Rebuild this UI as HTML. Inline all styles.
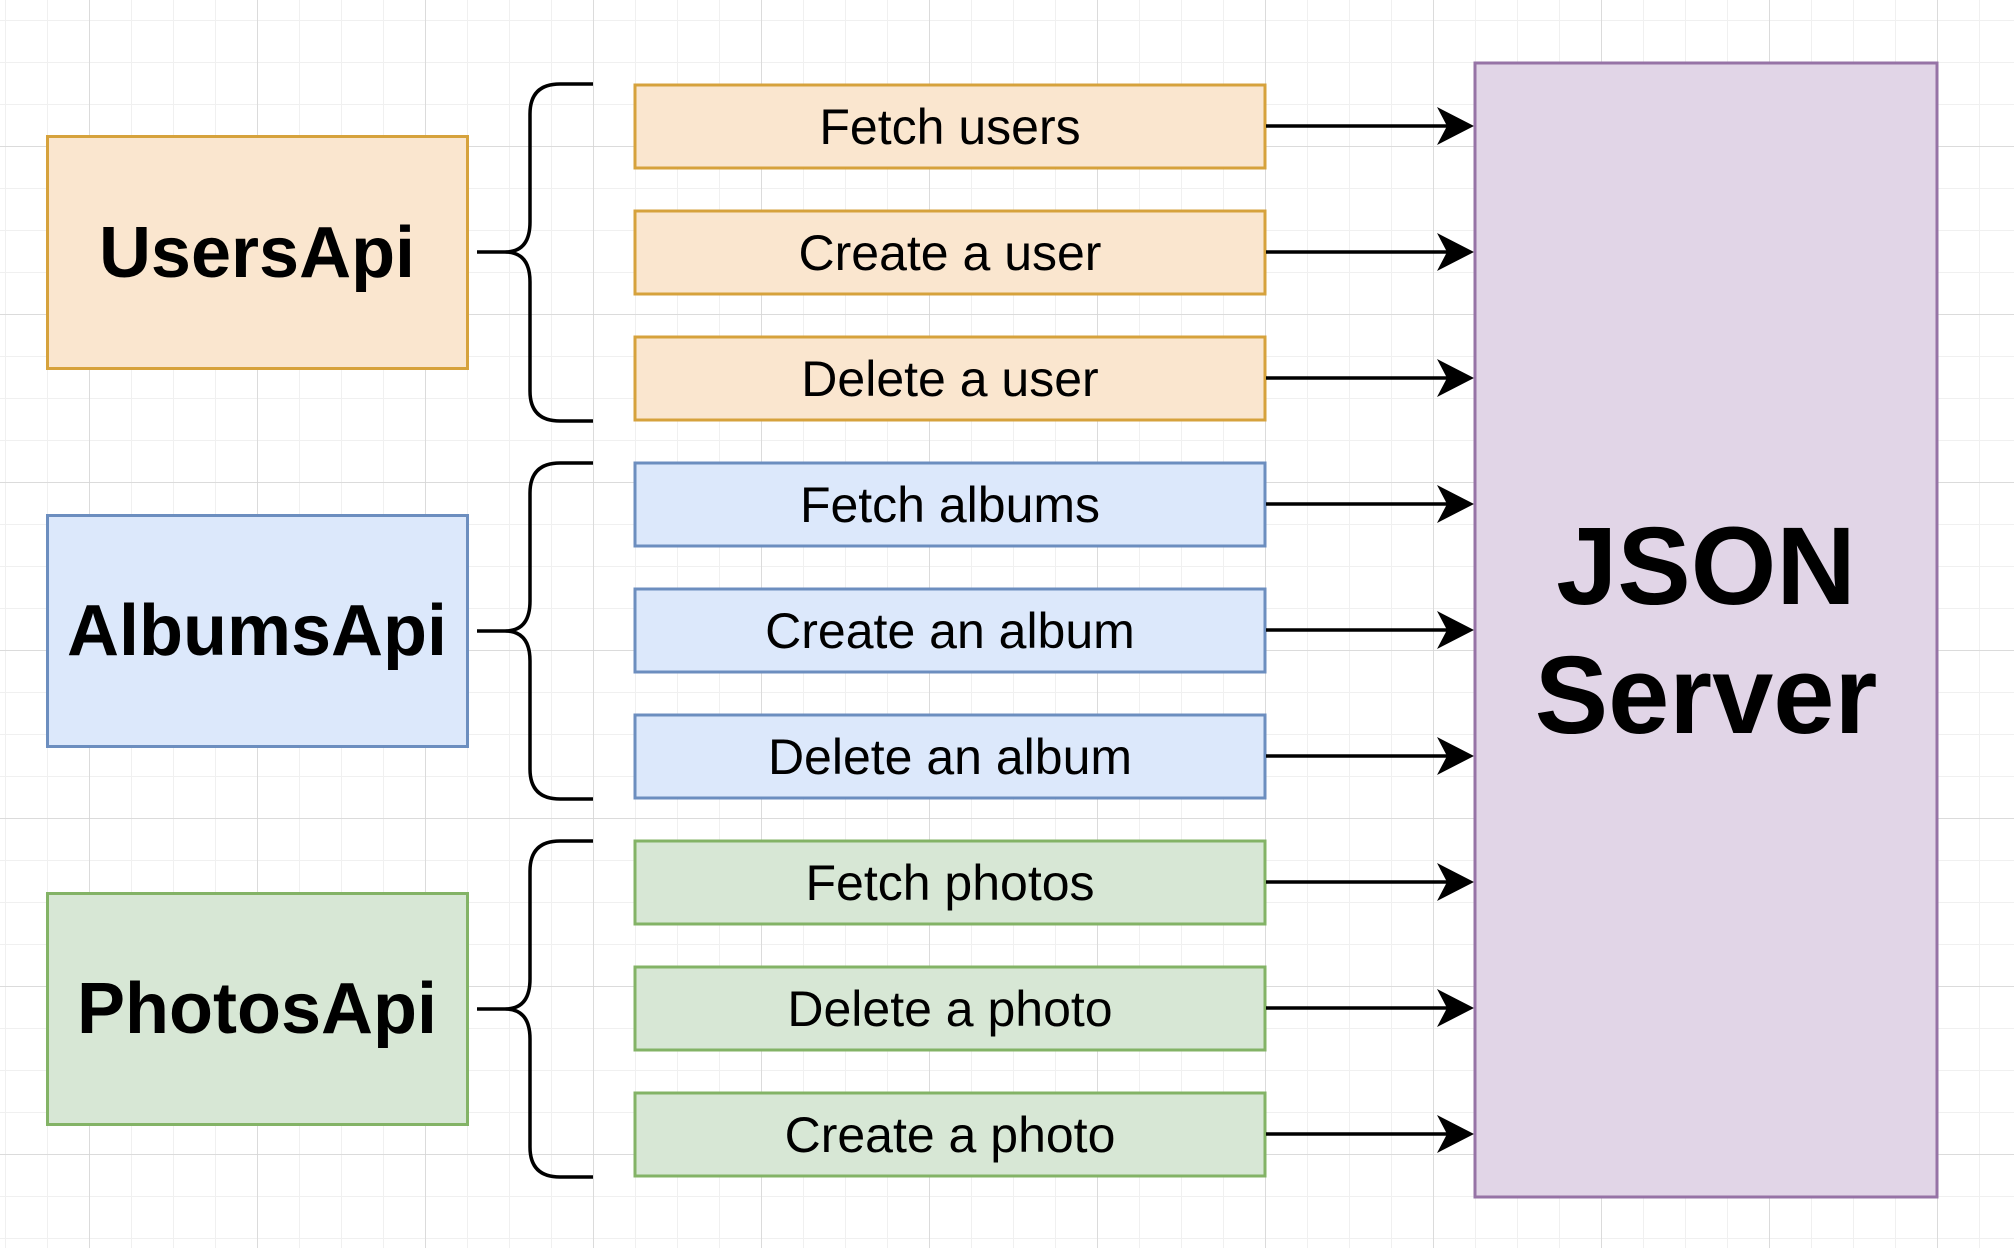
<!DOCTYPE html>
<html><head><meta charset="utf-8"><style>
html,body{margin:0;padding:0;background:#fff;}
svg{display:block;}
text{font-family:"Liberation Sans",Arial,sans-serif;fill:#000;}
</style></head><body>
<svg width="2014" height="1248" viewBox="0 0 2014 1248" xmlns="http://www.w3.org/2000/svg">
<defs>
<pattern id="minor" x="5" y="20" width="42" height="42" patternUnits="userSpaceOnUse">
<path d="M0 0 H42 M0 0 V42" stroke="#f0f0f0" stroke-width="2" fill="none"/>
</pattern>
<pattern id="major" x="89" y="146" width="168" height="168" patternUnits="userSpaceOnUse">
<path d="M0 0 H168 M0 0 V168" stroke="#d4d4d4" stroke-width="1.5" fill="none"/>
</pattern>
</defs>
<rect width="2014" height="1248" fill="#fff"/>
<rect width="2014" height="1248" fill="url(#minor)"/>
<rect width="2014" height="1248" fill="url(#major)"/>

<rect x="47.5" y="136.5" width="420" height="232" fill="#fae6cf" stroke="#d6a23c" stroke-width="3"/>
<text x="257" y="277" font-size="72" font-weight="bold" text-anchor="middle">UsersApi</text>
<rect x="47.5" y="515.5" width="420" height="231" fill="#dce8fb" stroke="#6c8ebf" stroke-width="3"/>
<text x="257" y="655" font-size="72" font-weight="bold" text-anchor="middle">AlbumsApi</text>
<rect x="47.5" y="893.5" width="420" height="231" fill="#d7e7d5" stroke="#83b366" stroke-width="3"/>
<text x="257" y="1033" font-size="72" font-weight="bold" text-anchor="middle">PhotosApi</text>

<g fill="none" stroke="#000" stroke-width="3.5">
<path d="M593 84 H560 Q530 84 530 114 V222 Q530 252 505 252 H477 M505 252 Q530 252 530 282 V391 Q530 421 560 421 H593"/>
<path d="M593 463 H560 Q530 463 530 493 V601 Q530 631 505 631 H477 M505 631 Q530 631 530 661 V769 Q530 799 560 799 H593"/>
<path d="M593 841 H560 Q530 841 530 871 V979 Q530 1009 505 1009 H477 M505 1009 Q530 1009 530 1039 V1147 Q530 1177 560 1177 H593"/>
</g>

<g stroke-width="3">
<rect x="635" y="85" width="630" height="83" fill="#fae6cf" stroke="#d6a23c"/>
<rect x="635" y="211" width="630" height="83" fill="#fae6cf" stroke="#d6a23c"/>
<rect x="635" y="337" width="630" height="83" fill="#fae6cf" stroke="#d6a23c"/>
<rect x="635" y="463" width="630" height="83" fill="#dce8fb" stroke="#6c8ebf"/>
<rect x="635" y="589" width="630" height="83" fill="#dce8fb" stroke="#6c8ebf"/>
<rect x="635" y="715" width="630" height="83" fill="#dce8fb" stroke="#6c8ebf"/>
<rect x="635" y="841" width="630" height="83" fill="#d7e7d5" stroke="#83b366"/>
<rect x="635" y="967" width="630" height="83" fill="#d7e7d5" stroke="#83b366"/>
<rect x="635" y="1093" width="630" height="83" fill="#d7e7d5" stroke="#83b366"/>
</g>
<g font-size="50" text-anchor="middle">
<text x="950" y="144">Fetch users</text>
<text x="950" y="270">Create a user</text>
<text x="950" y="396">Delete a user</text>
<text x="950" y="522">Fetch albums</text>
<text x="950" y="648">Create an album</text>
<text x="950" y="774">Delete an album</text>
<text x="950" y="900">Fetch photos</text>
<text x="950" y="1026">Delete a photo</text>
<text x="950" y="1152">Create a photo</text>
</g>

<g transform="translate(0,0)"><path d="M1266 126 H1452" stroke="#000" stroke-width="3.5"/><path d="M1474 126 L1437 107 L1447 126 L1437 145 Z"/></g>
<g transform="translate(0,126)"><path d="M1266 126 H1452" stroke="#000" stroke-width="3.5"/><path d="M1474 126 L1437 107 L1447 126 L1437 145 Z"/></g>
<g transform="translate(0,252)"><path d="M1266 126 H1452" stroke="#000" stroke-width="3.5"/><path d="M1474 126 L1437 107 L1447 126 L1437 145 Z"/></g>
<g transform="translate(0,378)"><path d="M1266 126 H1452" stroke="#000" stroke-width="3.5"/><path d="M1474 126 L1437 107 L1447 126 L1437 145 Z"/></g>
<g transform="translate(0,504)"><path d="M1266 126 H1452" stroke="#000" stroke-width="3.5"/><path d="M1474 126 L1437 107 L1447 126 L1437 145 Z"/></g>
<g transform="translate(0,630)"><path d="M1266 126 H1452" stroke="#000" stroke-width="3.5"/><path d="M1474 126 L1437 107 L1447 126 L1437 145 Z"/></g>
<g transform="translate(0,756)"><path d="M1266 126 H1452" stroke="#000" stroke-width="3.5"/><path d="M1474 126 L1437 107 L1447 126 L1437 145 Z"/></g>
<g transform="translate(0,882)"><path d="M1266 126 H1452" stroke="#000" stroke-width="3.5"/><path d="M1474 126 L1437 107 L1447 126 L1437 145 Z"/></g>
<g transform="translate(0,1008)"><path d="M1266 126 H1452" stroke="#000" stroke-width="3.5"/><path d="M1474 126 L1437 107 L1447 126 L1437 145 Z"/></g>

<rect x="1475" y="63" width="462" height="1134" fill="#e1d5e7" stroke="#9673a6" stroke-width="3"/>
<text x="1706" y="604" font-size="110" font-weight="bold" text-anchor="middle">JSON</text>
<text x="1706" y="733" font-size="110" font-weight="bold" text-anchor="middle">Server</text>
</svg>
</body></html>
